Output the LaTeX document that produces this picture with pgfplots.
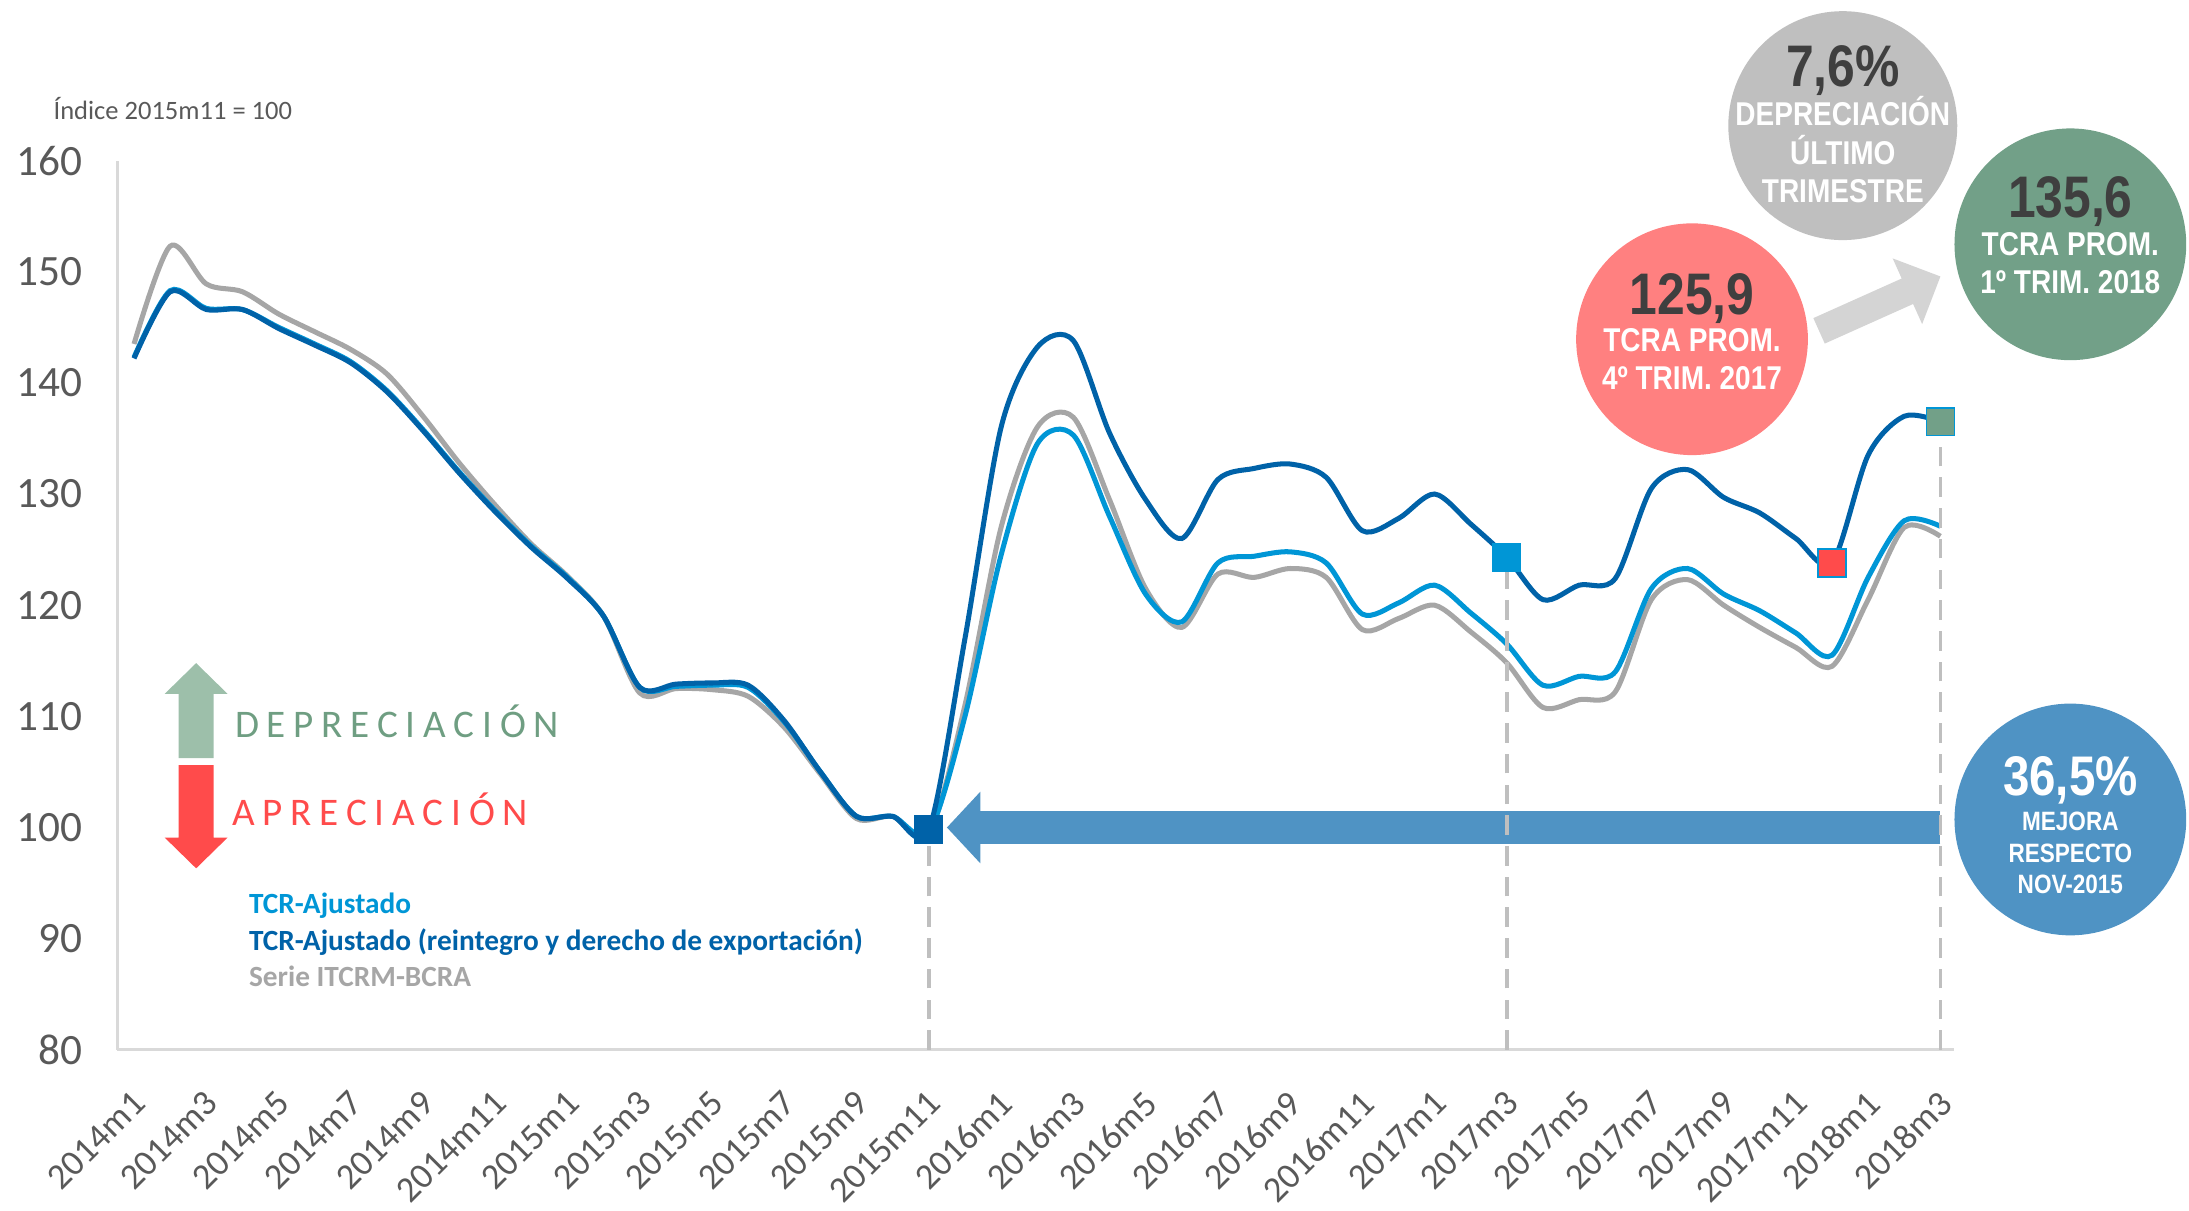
\documentclass[border=0pt]{standalone}
\usepackage{pgfplots}
\pgfplotsset{compat=1.18}
\usepackage{pgfplotstable}
\usepackage{fontspec}
\setmainfont{Carlito}
\newfontfamily\narrow[FakeStretch=0.85]{Liberation Sans}
\newfontfamily\spaced[LetterSpace=20]{Carlito}
\usetikzlibrary{arrows.meta}
\definecolor{lblue}{HTML}{0096D6}
\definecolor{dblue}{HTML}{0062A8}
\definecolor{lgray}{HTML}{A6A6A6}
\definecolor{txtgray}{HTML}{595959}
\definecolor{axgray}{HTML}{D9D9D9}
\definecolor{dashgray}{HTML}{BFBFBF}
\definecolor{cgray}{HTML}{BFBFBF}
\definecolor{cred}{HTML}{FF8080}
\definecolor{cgreen}{HTML}{72A088}
\definecolor{cblue}{HTML}{4F93C4}
\definecolor{arrgray}{HTML}{D4D4D4}
\definecolor{upgreen}{HTML}{9DBFAA}
\definecolor{txtgreen}{HTML}{6F9E82}
\definecolor{red2}{HTML}{FF4B4B}
\definecolor{numdark}{HTML}{3F3F3F}

\pgfplotstableread{
i a b c
0 142.3 142.2 143.5
1 148.3 148.2 152.3
2 146.7 146.6 148.9
3 146.6 146.6 148.2
4 145.0 144.9 146.2
5 143.5 143.4 144.6
6 141.9 141.8 143.0
7 139.3 139.2 140.8
8 135.8 135.7 137.0
9 132.0 131.9 132.8
10 128.5 128.4 129.0
11 125.3 125.2 125.5
12 122.5 122.4 122.6
13 119.0 119.0 119.0
14 112.6 112.6 112.1
15 112.7 112.9 112.5
16 112.8 113.0 112.4
17 112.6 112.8 111.8
18 109.5 109.6 109.0
19 105.0 105.0 104.8
20 101.0 101.0 100.8
21 101.0 101.0 101.0
22 99.6 99.8 99.4
23 110.0 117.0 111.0
24 124.5 136.0 127.0
25 134.5 143.2 136.0
26 135.3 143.8 136.9
27 128.0 135.5 129.5
28 121.0 129.5 121.5
29 118.5 126.0 118.0
30 123.8 131.3 122.8
31 124.4 132.3 122.5
32 124.8 132.7 123.3
33 123.8 131.5 122.5
34 119.2 126.7 117.8
35 120.2 127.8 118.8
36 121.8 130.0 120.0
37 119.3 127.3 117.6
38 116.5 124.3 114.8
39 112.8 120.5 110.8
40 113.6 121.8 111.5
41 114.0 122.4 112.2
42 121.5 130.5 120.5
43 123.3 132.2 122.3
44 121.0 129.7 120.0
45 119.5 128.3 118.0
46 117.5 126.0 116.2
47 115.5 123.8 114.5
48 122.5 133.5 120.5
49 127.6 137.0 127.0
50 127.1 136.5 126.2
}\data

\begin{document}
\begin{tikzpicture}[x=0.5pt,y=0.5pt]
\useasboundingbox (-84,-115) rectangle (1484,752);
\begin{axis}[at={(0,0)}, anchor=south west, scale only axis,
  width=658pt, height=318.5pt,
  xmin=-0.464, xmax=50.39, ymin=80, ymax=160,
  axis x line=bottom, axis y line=left,
  axis line style={axgray, line width=1pt, -},
  ytick={80,90,...,160},
  xtick={0,2,...,50},
  xticklabels={2014m1,2014m3,2014m5,2014m7,2014m9,2014m11,2015m1,2015m3,2015m5,2015m7,2015m9,2015m11,2016m1,2016m3,2016m5,2016m7,2016m9,2016m11,2017m1,2017m3,2017m5,2017m7,2017m9,2017m11,2018m1,2018m3},
  major tick length=0pt,
  tick label style={text=txtgray},
  yticklabel style={font=\fontsize{15.5}{15.5}\selectfont, xshift=-9pt},
  xticklabel style={font=\fontsize{13}{13}\selectfont, xshift=2pt, yshift=-17pt, rotate=45, anchor=east, inner sep=0pt},
  /pgf/number format/assume math mode=true,
  clip=false]
\addplot[lgray, line width=1.8pt, smooth] table[x=i,y=c]{\data};
\addplot[lblue, line width=1.8pt, smooth] table[x=i,y=a]{\data};
\addplot[dblue, line width=1.8pt, smooth] table[x=i,y=b]{\data};
\addplot[cblue, line width=12pt, -{Triangle[width=25pt,length=12pt]}] coordinates {(50,100) (22.5,100)};
\addplot[dashgray, line width=1.3pt, dash pattern=on 7pt off 4pt] coordinates {(22,80) (22,99.8)};
\addplot[dashgray, line width=1.3pt, dash pattern=on 7pt off 4pt] coordinates {(38,80) (38,124.3)};
\addplot[dashgray, line width=1.3pt, dash pattern=on 7pt off 4pt] coordinates {(50,80) (50,136.5)};
\addplot[only marks, mark=square*, mark size=5pt, mark options={fill=dblue, draw=dblue}] coordinates {(22,99.8)};
\addplot[only marks, mark=square*, mark size=5pt, mark options={fill=lblue, draw=lblue}] coordinates {(38,124.3)};
\addplot[only marks, mark=square*, mark size=5pt, mark options={fill=red2, draw=lblue, line width=0.5pt}] coordinates {(47,123.8)};
\addplot[only marks, mark=square*, mark size=5pt, mark options={fill=cgreen, draw=lblue, line width=0.5pt}] coordinates {(50,136.5)};
\end{axis}

\begin{scope}[shift={(-84,-115)}]
% index note
\node[anchor=west, inner sep=0, text=txtgray, font=\fontsize{9.5}{9.5}\selectfont] at (38,789) {Índice 2015m11 = 100};

% legend texts
\node[anchor=west, inner sep=0, text=lblue, font=\fontsize{10.5}{10.5}\selectfont\bfseries] at (178,218) {TCR-Ajustado};
\node[anchor=west, inner sep=0, text=dblue, font=\fontsize{10.5}{10.5}\selectfont\bfseries] at (178,192) {TCR-Ajustado (reintegro y derecho de exportación)};
\node[anchor=west, inner sep=0, text=lgray, font=\fontsize{10.5}{10.5}\selectfont\bfseries] at (178,168) {Serie ITCRM-BCRA};

% depreciation / appreciation arrows
\fill[upgreen] (128,324) -- (153,324) -- (153,370) -- (163,370) -- (140.5,392) -- (118,370) -- (128,370) -- cycle;
\fill[red2] (128,319) -- (153,319) -- (153,267) -- (163,267) -- (140.5,245) -- (118,267) -- (128,267) -- cycle;
\node[anchor=west, inner sep=0, text=txtgreen, font=\spaced\fontsize{14}{14}\selectfont] at (168,350) {DEPRECIACIÓN};
\node[anchor=west, inner sep=0, text=red2, font=\spaced\fontsize{14}{14}\selectfont] at (166,287) {APRECIACIÓN};

% circles
\fill[cgray] (1320,777) circle (82);
\fill[cred] (1212,624) circle (83);
\fill[cgreen] (1483,692) circle (83);
\fill[cblue] (1483,280) circle (83);
\draw[arrgray, line width=10pt, -{Triangle[width=25pt,length=13pt]}] (1303,630) -- (1390,669);

% gray circle text
\node[anchor=base, inner sep=0, text=numdark, font=\narrow\bfseries\fontsize{21}{21}\selectfont] at (1320,805) {7,6\%};
\node[anchor=base, inner sep=0, text=white, font=\narrow\bfseries\fontsize{11.8}{11.8}\selectfont] at (1320,777) {DEPRECIACIÓN};
\node[anchor=base, inner sep=0, text=white, font=\narrow\bfseries\fontsize{11.8}{11.8}\selectfont] at (1320,749) {ÚLTIMO};
\node[anchor=base, inner sep=0, text=white, font=\narrow\bfseries\fontsize{11.8}{11.8}\selectfont] at (1320,722) {TRIMESTRE};
% red circle
\node[anchor=base, inner sep=0, text=numdark, font=\narrow\bfseries\fontsize{21}{21}\selectfont] at (1212,642) {125,9};
\node[anchor=base, inner sep=0, text=white, font=\narrow\bfseries\fontsize{11.8}{11.8}\selectfont] at (1212,615) {TCRA PROM.};
\node[anchor=base, inner sep=0, text=white, font=\narrow\bfseries\fontsize{11.8}{11.8}\selectfont] at (1212,588) {4º TRIM. 2017};
% green circle
\node[anchor=base, inner sep=0, text=numdark, font=\narrow\bfseries\fontsize{21}{21}\selectfont] at (1483,711) {135,6};
\node[anchor=base, inner sep=0, text=white, font=\narrow\bfseries\fontsize{11.8}{11.8}\selectfont] at (1483,684) {TCRA PROM.};
\node[anchor=base, inner sep=0, text=white, font=\narrow\bfseries\fontsize{11.8}{11.8}\selectfont] at (1483,657) {1º TRIM. 2018};
% blue circle
\node[anchor=base, inner sep=0, text=white, font=\narrow\bfseries\fontsize{20}{20}\selectfont] at (1483,297) {36,5\%};
\node[anchor=base, inner sep=0, text=white, font=\narrow\bfseries\fontsize{9.5}{9.5}\selectfont] at (1483,272) {MEJORA};
\node[anchor=base, inner sep=0, text=white, font=\narrow\bfseries\fontsize{9.5}{9.5}\selectfont] at (1483,249) {RESPECTO};
\node[anchor=base, inner sep=0, text=white, font=\narrow\bfseries\fontsize{9.5}{9.5}\selectfont] at (1483,227) {NOV-2015};
\end{scope}
\end{tikzpicture}
\end{document}
